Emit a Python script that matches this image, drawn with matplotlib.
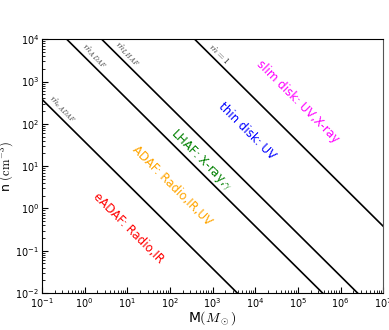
import matplotlib
matplotlib.use("Agg")
import matplotlib.pyplot as plt
import numpy as np

plt.rcParams['mathtext.fontset'] = 'cm'

# log10(n * M) for each accretion-rate boundary line
line_names = [r"$\dot{m}_{eADAF}$", r"$\dot{m}_{ADAF}$", r"$\dot{m}_{LHAF}$", r"$\dot{m}=1$"]
line_consts = [1.58, 3.58, 4.40, 6.58]
line_label_pos = [(0.31, 224), (1.66, 4070), (10.0, 4470), (1410, 4470)]

# regime labels
regions = ["eADAF: Radio,IR", "ADAF: Radio,IR,UV", "LHAF: X-ray,$\\gamma$",
           "thin disk: UV", "slim disk: UV,X-ray"]
region_colors = ["red", "orange", "green", "blue", "magenta"]
region_pos = [(10.5, 0.34), (112, 3.5), (540, 13.8), (6500, 68), (1.0e5, 330)]

fig = plt.figure(figsize=(3.89, 3.3), dpi=100)
ax = fig.add_axes([0.108, 0.112, 0.877, 0.769])

M = np.logspace(-1, 7, 200)
for c in line_consts:
    ax.plot(M, 10**c / M, color="black", lw=1.2)

for name, (x, y) in zip(line_names, line_label_pos):
    ax.text(x, y, name, rotation=-45, ha="center", va="center", fontsize=7, color="#333333")

for name, col, (x, y) in zip(regions, region_colors, region_pos):
    ax.text(x, y, name, rotation=-45, ha="center", va="center", fontsize=8.5, color=col)

ax.set_xscale("log")
ax.set_yscale("log")
ax.set_xlim(1e-1, 1e7)
ax.set_ylim(1e-2, 1e4)
ax.tick_params(which="both", direction="in", top=False, right=False, labelsize=7, pad=2)
ax.tick_params(which="major", length=4)
ax.tick_params(which="minor", length=2)
ax.set_xlabel(r"M$(M_\odot)$", fontsize=10, labelpad=0)
ax.set_ylabel(r"n $(\mathrm{cm}^{-3})$", fontsize=9, labelpad=0)
ax.spines["right"].set_color("#555555")

fig.savefig("out.png", dpi=100)
